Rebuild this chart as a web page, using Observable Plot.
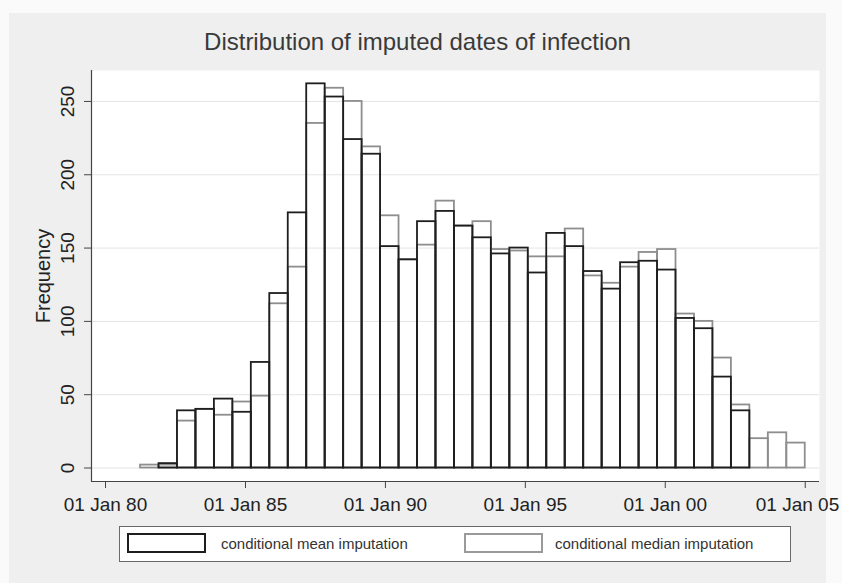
<!DOCTYPE html>
<html>
<head>
<meta charset="utf-8">
<script src="https://cdn.jsdelivr.net/npm/d3@7"></script>
<script src="https://cdn.jsdelivr.net/npm/@observablehq/plot@0.6"></script>
<style>
  html, body { margin: 0; padding: 0; background: #fafafa; }
  body { width: 842px; height: 583px; position: relative; overflow: hidden; font-family: "Liberation Sans", Arial, sans-serif; }
  #graph { position: absolute; left: 9px; top: 13px; width: 817px; height: 570px; background: #efefef; }
  #title { position: absolute; left: 0; top: 17px; width: 817px; text-align: center; font-size: 24px; line-height: 24px; color: #3a3a3a; }
  #chart { position: absolute; left: -9px; top: 47px; width: 842px; }
  #chart svg { overflow: visible; max-width: none !important; display: block; }
  #legend { position: absolute; left: 110px; top: 513px; width: 670px; height: 34px; background: #fff; border: 1px solid #6a6a6a; }
  .key { position: absolute; top: 6px; width: 75px; height: 16px; background: #fff; box-sizing: content-box; }
  .lab { position: absolute; top: 0; height: 34px; line-height: 34px; font-size: 15px; color: #333; }
</style>
</head>
<body>
<div id="graph">
  <div id="title"></div>
  <div id="chart"></div>
  <div id="legend">
    <div class="key" id="k1" style="left:7px; border:2px solid #1e1e1e;"></div>
    <div class="lab" id="l1" style="left:101px;"></div>
    <div class="key" id="k2" style="left:344px; border:2px solid #9a9a9a;"></div>
    <div class="lab" id="l2" style="left:435px;"></div>
  </div>
</div>
<script>
// ---- data ----
const titleText = "Distribution of imputed dates of infection";
const yLabel = "Frequency";
const seriesNames = ["conditional mean imputation", "conditional median imputation"];
const firstBinEdge = "1981-04-02";
const lastBinEdge = "2005-01-01";
const binCount = 36;
const meanCounts = [0,3,39,40,47,38,72,119,174,262,253,224,214,151,142,168,175,165,157,146,150,133,160,151,134,122,140,141,135,102,95,62,39,0,0,0];
const medianCounts = [2,2,32,40,36,45,49,112,137,235,259,250,219,172,142,152,182,165,168,149,148,144,144,163,131,126,137,147,149,105,100,75,43,20,24,17];
const xTickDates = ["1980-01-01","1985-01-01","1990-01-01","1995-01-01","2000-01-01","2005-01-01"];
const yTicks = [0, 50, 100, 150, 200, 250];
const xDomain = ["1979-07-02", "2005-07-06"];
const yDomain = [-9.2, 271.1];

// ---- build table ----
const t0 = new Date(firstBinEdge).getTime();
const t1 = new Date(lastBinEdge).getTime();
const bw = (t1 - t0) / binCount;
const bins = d3.range(binCount).map(i => ({
  x1: new Date(t0 + i * bw),
  x2: new Date(t0 + (i + 1) * bw),
  mean: meanCounts[i],
  median: medianCounts[i]
}));
const xMin = new Date(xDomain[0]);
const yMin = yDomain[0];
const xTicks = xTickDates.map(d => new Date(d));

document.getElementById("title").textContent = titleText;
document.getElementById("l1").textContent = seriesNames[0];
document.getElementById("l2").textContent = seriesNames[1];

const fontFam = "Liberation Sans, Arial, sans-serif";
const fmt = d3.utcFormat("%d %b %y");

const chart = Plot.plot({
  width: 842,
  height: 460,
  marginLeft: 91,
  marginRight: 23,
  marginTop: 10,
  marginBottom: 39,
  style: { fontFamily: fontFam, background: "transparent", overflow: "visible", maxWidth: "none" },
  x: { type: "utc", domain: xDomain.map(d => new Date(d)) },
  y: { domain: yDomain },
  marks: [
    Plot.frame({ fill: "white", stroke: null }),
    Plot.ruleY(yTicks, { stroke: "#e4e4e4", strokeWidth: 1 }),
    Plot.rectY(bins.filter(d => d.median > 0), {
      x1: "x1", x2: "x2", y: "median",
      fill: "none", stroke: "#8e8e8e", strokeWidth: 1.8, insetLeft: 0, insetRight: 0
    }),
    Plot.rectY(bins.filter(d => d.mean > 0), {
      x1: "x1", x2: "x2", y: "mean",
      fill: "none", stroke: "#1e1e1e", strokeWidth: 1.8, insetLeft: 0, insetRight: 0
    }),
    Plot.ruleY([yMin], { stroke: "#444", strokeWidth: 1.2 }),
    Plot.ruleX([xMin], { stroke: "#444", strokeWidth: 1.2 }),
    Plot.axisX({
      ticks: xTicks,
      tickSize: 7,
      tickFormat: () => "",
      stroke: "#444",
      label: null
    }),
    Plot.axisX({
      ticks: xTicks.slice(0, -1),
      tickFormat: fmt,
      tickSize: 0,
      tickPadding: 16,
      fontSize: 19,
      fill: "#222",
      label: null
    }),
    Plot.axisX({
      ticks: xTicks.slice(-1),
      tickFormat: fmt,
      tickSize: 0,
      tickPadding: 16,
      textAnchor: "end",
      dx: 34,
      fontSize: 19,
      fill: "#222",
      label: null
    }),
    Plot.axisY({
      ticks: yTicks,
      tickSize: 7,
      tickFormat: () => "",
      stroke: "#444",
      label: null
    }),
    Plot.text(yTicks, {
      y: d => d,
      text: d => String(d),
      frameAnchor: "left",
      rotate: -90,
      dx: -18,
      textAnchor: "middle",
      lineAnchor: "bottom",
      fontSize: 19,
      fill: "#222"
    }),
    Plot.text([yLabel], {
      text: d => d,
      frameAnchor: "left",
      rotate: -90,
      dx: -42,
      textAnchor: "middle",
      lineAnchor: "bottom",
      fontSize: 20,
      fill: "#222"
    })
  ]
});
document.getElementById("chart").appendChild(chart);
</script>
</body>
</html>
